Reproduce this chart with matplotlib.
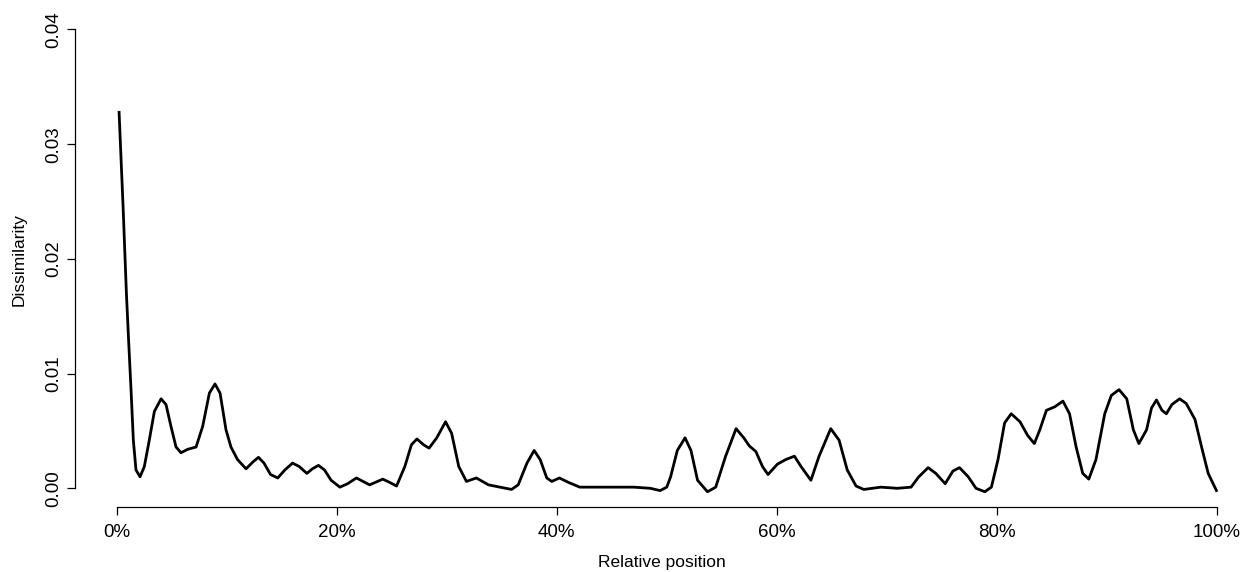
import matplotlib
matplotlib.use("Agg")
import matplotlib.pyplot as plt
from matplotlib.ticker import FuncFormatter

plt.rcParams['font.family'] = ['Liberation Sans', 'DejaVu Sans']

# relative position (%) and dissimilarity
position = [0.23, 0.6, 0.9, 1.1, 1.32, 1.53, 1.77, 2.14, 2.53, 2.98, 3.44, 4.05, 4.5, 4.95, 5.41,
            5.86, 6.47, 7.23, 7.83, 8.44, 8.95, 9.41, 9.95, 10.4, 11.0, 11.77, 12.4, 12.9, 13.4,
            14.0, 14.65, 15.3, 16.0, 16.6, 17.3, 17.8, 18.35, 18.9, 19.5, 20.3, 21.0, 21.8, 22.4,
            23.0, 24.2, 24.85, 25.45, 26.2, 26.8, 27.3, 27.9, 28.4, 29.1, 29.9, 30.45, 31.1, 31.8,
            32.7, 33.8, 34.85, 35.9, 36.5, 37.3, 37.95, 38.5, 39.1, 39.55, 40.25, 41.1, 42.1, 44.5,
            47.0, 48.5, 49.4, 50.0, 50.35, 50.96, 51.66, 52.2, 52.8, 53.7, 54.45, 55.35, 56.3, 57.0,
            57.5, 58.1, 58.7, 59.2, 60.05, 60.8, 61.6, 62.2, 63.1, 63.84, 64.9, 65.66, 66.4, 67.2,
            67.9, 69.45, 70.96, 72.2, 72.9, 73.75, 74.45, 75.3, 76.0, 76.6, 77.4, 78.1, 78.9, 79.5,
            80.1, 80.7, 81.3, 82.1, 82.8, 83.4, 83.9, 84.5, 85.25, 86.0, 86.6, 87.2, 87.8, 88.35,
            89.0, 89.8, 90.4, 91.1, 91.8, 92.4, 92.9, 93.6, 94.05, 94.5, 95.0, 95.4, 95.9, 96.6,
            97.2, 98.0, 98.6, 99.2, 100.0]
dissimilarity = [0.0329, 0.0245, 0.0170, 0.0129, 0.0086, 0.0042, 0.0016, 0.0010, 0.0019, 0.0042,
                 0.0067, 0.0078, 0.0073, 0.0054, 0.0036, 0.0031, 0.0034, 0.0036, 0.0054, 0.0083,
                 0.0091, 0.0083, 0.0051, 0.0036, 0.0025, 0.0017, 0.0023, 0.0027, 0.0022, 0.0012,
                 0.0009, 0.0016, 0.0022, 0.0019, 0.0013, 0.0017, 0.0020, 0.0016, 0.0007, 0.0001,
                 0.0004, 0.0009, 0.0006, 0.0003, 0.0008, 0.0005, 0.0002, 0.0019, 0.0038, 0.0043,
                 0.0038, 0.0035, 0.0044, 0.0058, 0.0048, 0.0019, 0.0006, 0.0009, 0.0003, 0.0001,
                 -0.0001, 0.0003, 0.0022, 0.0033, 0.0025, 0.0009, 0.0006, 0.0009, 0.0005, 0.0001,
                 0.0001, 0.0001, 0.0000, -0.0002, 0.0001, 0.0010, 0.0033, 0.0044, 0.0033, 0.0007,
                 -0.0003, 0.0001, 0.0028, 0.0052, 0.0044, 0.0037, 0.0032, 0.0019, 0.0012, 0.0021,
                 0.0025, 0.0028, 0.0019, 0.0007, 0.0028, 0.0052, 0.0042, 0.0016, 0.0002, -0.0001,
                 0.0001, 0.0000, 0.0001, 0.0010, 0.0018, 0.0013, 0.0004, 0.0015, 0.0018, 0.0010,
                 0.0000, -0.0003, 0.0001, 0.0025, 0.0057, 0.0065, 0.0058, 0.0046, 0.0039, 0.0051,
                 0.0068, 0.0071, 0.0076, 0.0065, 0.0036, 0.0013, 0.0008, 0.0025, 0.0065, 0.0081,
                 0.0086, 0.0078, 0.0051, 0.0039, 0.0051, 0.0070, 0.0077, 0.0068, 0.0065, 0.0073,
                 0.0078, 0.0074, 0.0060, 0.0036, 0.0013, -0.0003]
x_ticks = [0, 20, 40, 60, 80, 100]
y_ticks = [0.00, 0.01, 0.02, 0.03, 0.04]

W, H = 1249, 572
fig = plt.figure(figsize=(W / 100, H / 100), dpi=100)
# plot region (pixels): left 75, right 1249, top 13, bottom 506.7
ax = fig.add_axes([75 / W, 1 - 506.7 / H, (W - 75) / W, (506.7 - 13) / H])

ax.plot(position, dissimilarity, color='black', linewidth=2.0,
        solid_joinstyle='round', solid_capstyle='butt')

ax.set_xlim((75 - 116.5) / 11.005, (W - 116.5) / 11.005)
ax.set_ylim(-18.4 / 11470, (488.3 - 13) / 11470)

for s in ['top', 'right']:
    ax.spines[s].set_visible(False)
ax.spines['left'].set_bounds(0, 0.04)
ax.spines['bottom'].set_bounds(0, 100)
for s in ['left', 'bottom']:
    ax.spines[s].set_linewidth(0.9)

ax.set_xticks(x_ticks)
ax.xaxis.set_major_formatter(FuncFormatter(lambda v, p: f"{v:.0f}%"))
ax.set_yticks(y_ticks)
ax.set_yticklabels([f"{v:.2f}" for v in y_ticks], rotation=90, va='center')
ax.tick_params(axis='both', direction='out', length=6, width=0.9, labelsize=13.5)
ax.tick_params(axis='x', pad=6.5)
ax.tick_params(axis='y', pad=3.5)

ax.set_xlabel('Relative position', fontsize=12.5, va='center')
ax.xaxis.set_label_coords(0.5, (506.7 - 563) / 493.7)
ax.set_ylabel('Dissimilarity', fontsize=12.5, va='center')
ax.yaxis.set_label_coords((19.5 - 75) / 1174, 0.5)

fig.savefig('out.png', dpi=100)
